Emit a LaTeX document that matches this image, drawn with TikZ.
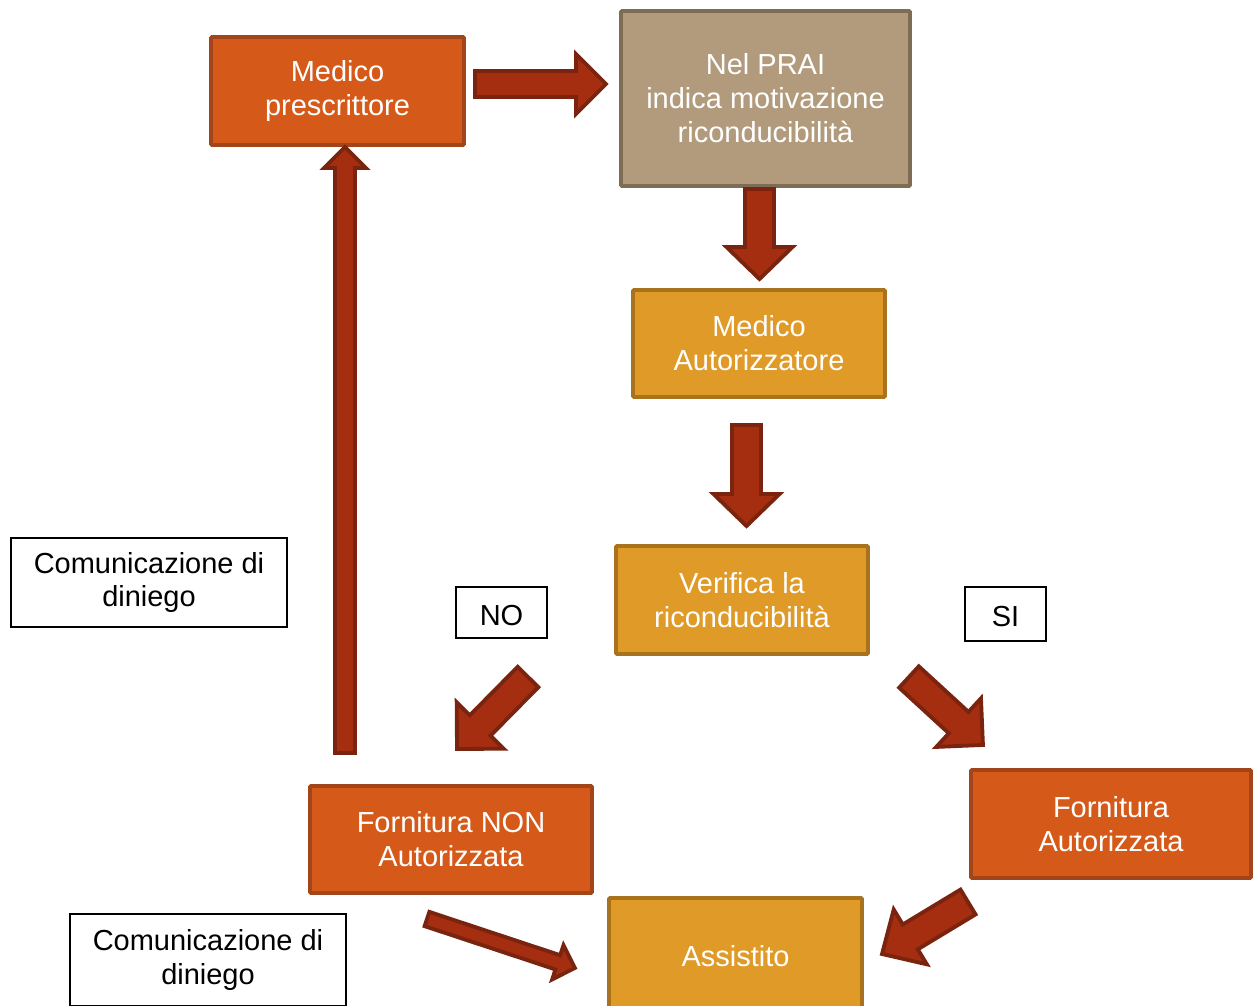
\documentclass[tikz,border=0pt]{standalone}
\usepackage{fontspec}
\setmainfont{Liberation Sans}
\usetikzlibrary{calc}
\definecolor{redorange}{HTML}{D55A1A}
\definecolor{redorangeb}{HTML}{A3451A}
\definecolor{tanfill}{HTML}{B19B7C}
\definecolor{tanborder}{HTML}{7E6C55}
\definecolor{amber}{HTML}{E09A28}
\definecolor{amberb}{HTML}{A9731E}
\definecolor{arrfill}{HTML}{A52E10}
\definecolor{arrborder}{HTML}{7A2410}
\newcommand\blockarr[5]{%
  \path[blockarrow] let \p1=(#1), \p2=(#2),
    \n1={atan2(\y2-\y1,\x2-\x1)}, \n2={veclen(\x2-\x1,\y2-\y1)},
    \n3={#3*0.56906}, \n4={#4*0.56906}, \n5={#5*0.56906} in
    [shift={(\p1)}, rotate=\n1]
    (0pt,-\n3 pt) -- (\n2-\n5 pt,-\n3 pt) -- (\n2-\n5 pt,-\n4 pt) -- (\n2,0pt)
    -- (\n2-\n5 pt,\n4 pt) -- (\n2-\n5 pt,\n3 pt) -- (0pt,\n3 pt) -- cycle;}
\tikzset{
  boxtext/.style={align=center, inner sep=0pt, font=\fontsize{16.5}{19.3}\selectfont,
    execute at begin node={\rule{0pt}{14.5pt}}},
  box/.style={rectangle, rounded corners=0.6pt, line width=2.2pt, text=white, boxtext},
  redbox/.style={box, fill=redorange, draw=redorangeb},
  tanbox/.style={box, fill=tanfill, draw=tanborder},
  ambbox/.style={box, fill=amber, draw=amberb},
  labelbox/.style={rectangle, draw=black, line width=1.1pt, fill=white, text=black, boxtext},
  blockarrow/.style={fill=arrfill, draw=arrborder, line width=2.2pt, line join=miter}
}
\begin{document}
\begin{tikzpicture}[x=0.02cm, y=-0.02cm]
\useasboundingbox (0,0) rectangle (1254,1005);
\clip (0,0) rectangle (1254,1005);
% boxes
\node[redbox, minimum width={253*0.02cm}, minimum height={108*0.02cm}] (mp) at (337.5,91) {Medico\\prescrittore};
\node[tanbox, minimum width={289*0.02cm}, minimum height={175*0.02cm}] (prai) at (765.5,98.5) {Nel PRAI\\indica motivazione\\riconducibilità};
\node[ambbox, minimum width={252*0.02cm}, minimum height={107*0.02cm}] (ma) at (759,343.5) {Medico\\Autorizzatore};
\node[ambbox, minimum width={252*0.02cm}, minimum height={108*0.02cm}] (ver) at (742,600) {Verifica la\\riconducibilità};
\node[redbox, minimum width={282*0.02cm}, minimum height={107*0.02cm}] (fnon) at (451,839.5) {Fornitura NON\\Autorizzata};
\node[redbox, minimum width={280*0.02cm}, minimum height={108*0.02cm}] (faut) at (1111,824) {Fornitura\\Autorizzata};
\node[ambbox, minimum width={253*0.02cm}, minimum height={112*0.02cm}] (ass) at (735.5,954) {Assistito};
% label boxes
\node[labelbox, minimum width={276*0.02cm}, minimum height={89*0.02cm}] (cd1) at (149,582.5) {Comunicazione di\\diniego};
\node[labelbox, minimum width={91*0.02cm}, minimum height={51*0.02cm}] (no) at (501.5,612.5) {NO};
\node[labelbox, minimum width={81*0.02cm}, minimum height={54*0.02cm}] (si) at (1005.5,614) {SI};
\node[labelbox, minimum width={276*0.02cm}, minimum height={92*0.02cm}] (cd2) at (208,960) {Comunicazione di\\diniego};
% arrow end points
\coordinate (a1s) at (475,84);   \coordinate (a1e) at (606,84);
\coordinate (a2s) at (759.5,189); \coordinate (a2e) at (759.5,279);
\coordinate (a3s) at (746.5,425); \coordinate (a3e) at (746.5,526);
\coordinate (a4s) at (528,677);  \coordinate (a4e) at (457,749);
\coordinate (a5s) at (909,677);  \coordinate (a5e) at (983,745);
\coordinate (a6s) at (968,902);  \coordinate (a6e) at (882,954);
\coordinate (a7s) at (427,919);  \coordinate (a7e) at (575,968);
\coordinate (a8s) at (345,753);  \coordinate (a8e) at (345,147);
% block arrows
\blockarr{a1s}{a1e}{13}{30}{30}
\blockarr{a2s}{a2e}{14.5}{33}{32}
\blockarr{a3s}{a3e}{14.5}{33}{32}
\blockarr{a4s}{a4e}{14.5}{33}{33}
\blockarr{a5s}{a5e}{14.5}{33}{33}
\blockarr{a6s}{a6e}{14.5}{32}{33}
\blockarr{a7s}{a7e}{7.5}{18}{18}
\blockarr{a8s}{a8e}{10}{21}{21}
\end{tikzpicture}
\end{document}
